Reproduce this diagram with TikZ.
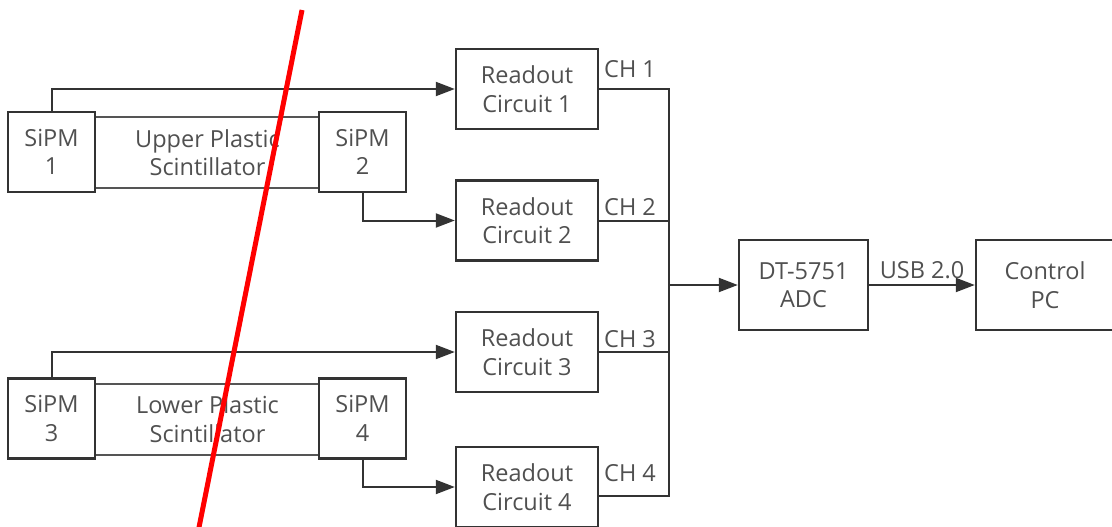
\documentclass[tikz,border=0pt]{standalone}
\usepackage{fontspec}
\setmainfont{Open Sans}
\usetikzlibrary{arrows.meta,calc}
\definecolor{ink}{HTML}{333333}
\definecolor{txt}{HTML}{505050}
\definecolor{scin}{HTML}{555555}
\begin{document}
\begin{tikzpicture}[x=1pt,y=-1pt,
  every node/.style={font=\fontsize{23.5}{28.5}\selectfont, text=txt},
  box/.style={draw=ink, line width=2.4pt, fill=white, align=center, inner sep=0pt},
  sipm/.style={box, minimum width=87pt, minimum height=80pt},
  scint/.style={draw=scin, line width=2pt, fill=white, align=center, inner sep=0pt, minimum width=225pt, minimum height=71pt},
  readout/.style={box, minimum width=142pt, minimum height=80pt},
  wire/.style={draw=ink, line width=2pt},
  arr/.style={wire, -{Triangle[length=19pt,width=14pt]}},
  lbl/.style={inner sep=0pt, anchor=west}
]
\useasboundingbox (0,0) rectangle (1112,527);

% scintillators
\node[scint] (us) at (207.5,152.5) {Upper Plastic\\Scintillator};
\node[scint] (ls) at (207.5,419) {Lower Plastic\\Scintillator};
% SiPMs
\node[sipm] (s1) at (51.5,152) {SiPM\\1};
\node[sipm] (s2) at (362.5,152) {SiPM\\2};
\node[sipm] (s3) at (51.5,418.5) {SiPM\\3};
\node[sipm] (s4) at (362.5,418.5) {SiPM\\4};
% readout circuits
\node[readout] (r1) at (527,89) {Readout\\Circuit 1};
\node[readout] (r2) at (527,220.5) {Readout\\Circuit 2};
\node[readout] (r3) at (527,352) {Readout\\Circuit 3};
\node[readout] (r4) at (527,487) {Readout\\Circuit 4};
% ADC and PC
\node[box, minimum width=129pt, minimum height=90pt] (adc) at (803.5,285) {DT-5751\\ADC};
\node[box, minimum width=138pt, minimum height=90pt] (pc) at (1045,285) {Control\\PC};

% SiPM to readout
\draw[arr] (s1.north) |- (r1.west);
\draw[arr] (s2.south) |- (r2.west);
\draw[arr] (s3.north) |- (r3.west);
\draw[arr] (s4.south) |- (r4.west);

% bus
\coordinate (b1) at (669,89);
\coordinate (b4) at (669,496);
\coordinate (bm) at (669,285);
\draw[wire] (r1.east) -- (b1) -- (b4) -- (r4.east |- b4);
\draw[wire] (r2.east) -- (r2.east -| bm);
\draw[wire] (r3.east) -- (r3.east -| bm);
\draw[arr] (bm) -- (adc.west);
\draw[arr] (adc.east) -- node[above=5pt, inner sep=0pt] (usb) {USB 2.0} (pc.west);

% channel labels
\node[lbl] (ch1) at (604,69) {CH 1};
\node[lbl] (ch2) at (604,207) {CH 2};
\node[lbl] (ch3) at (604,339) {CH 3};
\node[lbl] (ch4) at (604,473) {CH 4};

% red slash
\coordinate (rt) at (302,10);
\coordinate (rb) at (198.5,530);
\draw[red, line width=5pt] (rt) -- (rb);
\end{tikzpicture}
\end{document}
